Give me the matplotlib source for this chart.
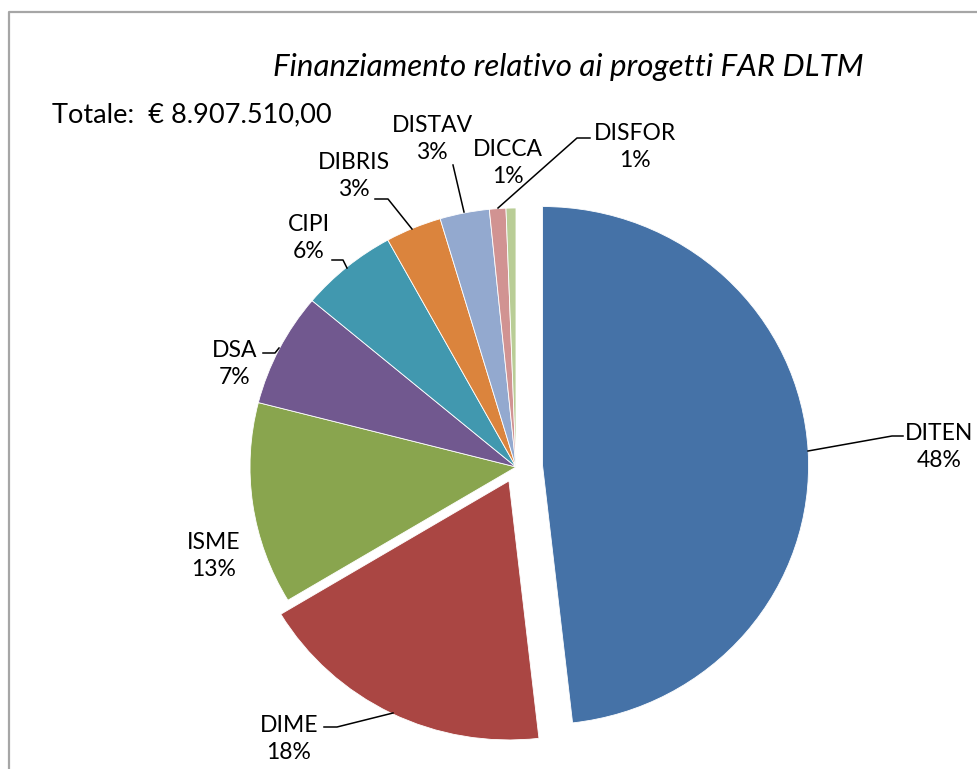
import matplotlib
matplotlib.use('Agg')
import matplotlib.pyplot as plt

# quote percentuali
dipartimenti = ['DITEN', 'DIME', 'ISME', 'DSA', 'CIPI', 'DIBRIS', 'DISTAV', 'DICCA', 'DISFOR']
quote = [48.2, 18.2, 12.6, 7.1, 5.9, 3.4, 3.0, 1.0, 0.6]
esplosione = [0.1, 0.06, 0, 0, 0, 0, 0, 0, 0]
colori = ['#4572A7', '#AA4643', '#89A54E', '#71588F', '#4198AF',
          '#DB843D', '#93A9CF', '#D19392', '#B9CD96']
titolo = 'Finanziamento relativo ai progetti FAR DLTM'
totale = 'Totale:  € 8.907.510,00'

W, H = 978, 769
plt.rcParams['font.family'] = ['Lato', 'DejaVu Sans']

fig = plt.figure(figsize=(W / 100, H / 100), dpi=100)

# torta in un suo asse (leggermente schiacciata come l'originale)
cx, cy = 516, 467          # pixel, dall'alto
rx, ry = 266, 259
k = 1.3
ax_pie = fig.add_axes([(cx - k * rx) / W, (H - cy - k * ry) / H,
                       2 * k * rx / W, 2 * k * ry / H])
ax_pie.pie(quote, colors=colori, startangle=90, counterclock=False,
           explode=esplosione,
           wedgeprops=dict(edgecolor='white', linewidth=0.6))
ax_pie.set_xlim(-k, k)
ax_pie.set_ylim(-k, k)
ax_pie.set_aspect('auto')
ax_pie.axis('off')

# asse sovrapposto in pixel per testi e linee
ax = fig.add_axes([0, 0, 1, 1])
ax.set_xlim(0, W)
ax.set_ylim(H, 0)
ax.axis('off')

# posizioni etichette (centro del blocco di testo, pixel)
pos_etichette = {
    'DITEN': (939, 447), 'DIME': (289, 739), 'ISME': (214, 556),
    'DSA': (235, 364), 'CIPI': (309, 238), 'DIBRIS': (354, 176),
    'DISTAV': (432, 139), 'DICCA': (508, 163), 'DISFOR': (635, 147),
}
for nome, q in zip(dipartimenti, quote):
    x, y = pos_etichette[nome]
    ax.text(x, y, f'{nome}\n{q:.0f}%', ha='center', va='center',
            fontsize=16.5, linespacing=1.4, color='black')

# linee guida
guide = [
    [(808, 451), (892, 436), (903, 436)],
    [(324, 727), (337, 727), (393, 713)],
    [(263, 353), (275, 353), (279, 348)],
    [(332, 260), (343, 260), (347, 268)],
    [(375, 199), (388, 199), (412, 229)],
    [(453, 165), (464, 212)],
    [(590, 138), (577, 138), (498, 208)],
]
for g in guide:
    ax.plot([p[0] for p in g], [p[1] for p in g], color='black', lw=1.1)

ax.text(568, 67, titolo, ha='center', va='center', fontsize=22.5, style='italic')
ax.text(52, 115, totale, ha='left', va='center', fontsize=19.5)

# cornice
ax.plot([9, 9, W + 5], [H + 5, 12, 12], color='#a6a6a6', lw=1.6)

fig.savefig('out.png', dpi=100)
